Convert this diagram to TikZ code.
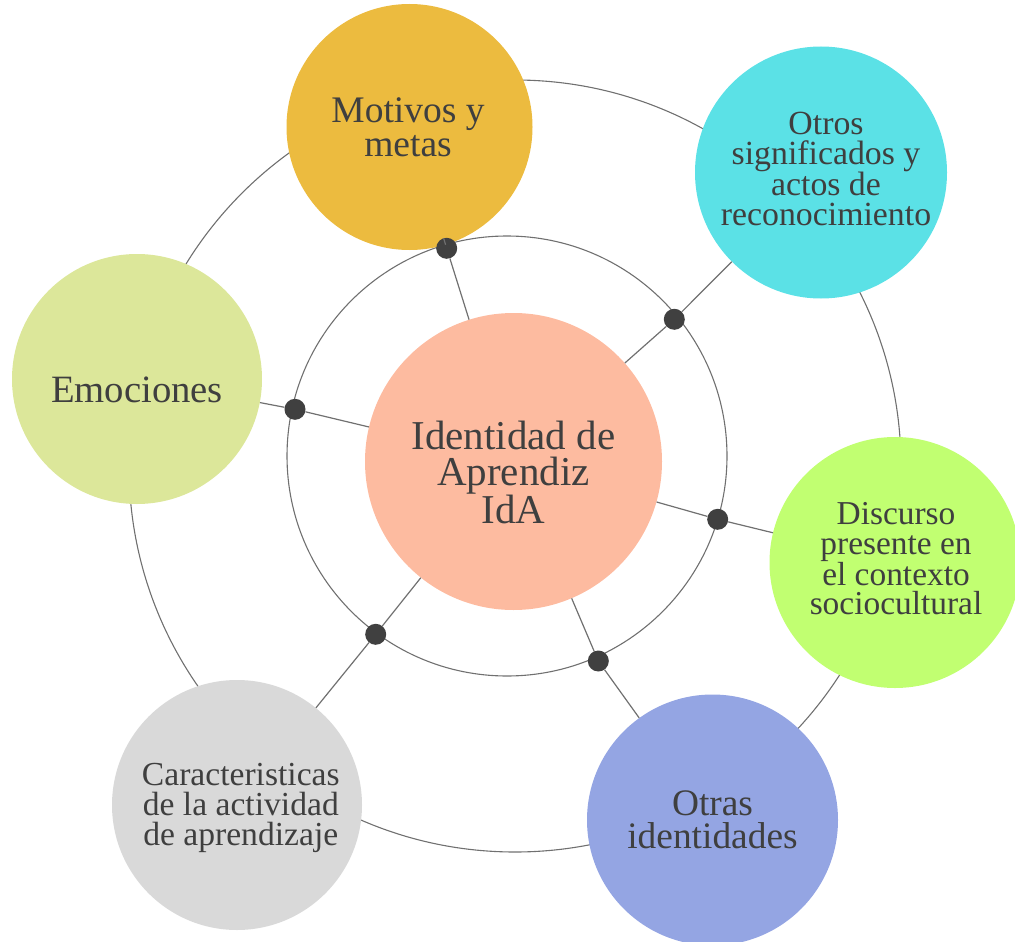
\documentclass[tikz,border=0pt]{standalone}
\usepackage{fontspec}
\setmainfont{Liberation Serif}
\definecolor{cMot}{HTML}{ECBB3F}
\definecolor{cOtr}{HTML}{5BE1E6}
\definecolor{cEmo}{HTML}{DCE79A}
\definecolor{cDis}{HTML}{C1FF71}
\definecolor{cOid}{HTML}{94A5E3}
\definecolor{cCar}{HTML}{D9D9D9}
\definecolor{cCen}{HTML}{FDBBA0}
\definecolor{cTxt}{HTML}{3F3F3F}
\definecolor{cLine}{HTML}{707070}
\definecolor{cDot}{HTML}{404040}
\tikzset{
  ring/.style={circle, draw=cLine, line width=1.1pt, inner sep=0pt},
  bubble/.style={circle, inner sep=0pt, draw=none},
  conn/.style={draw=cLine, line width=1.2pt},
  dotnode/.style={circle, fill=cDot, inner sep=0pt, minimum size=21pt},
  label/.style={text=cTxt, align=center, inner sep=0pt}
}
\newcommand{\fsz}[2]{\fontsize{#1pt}{#2pt}\selectfont}
\begin{document}
\begin{tikzpicture}[x=1pt,y=-1pt]
\useasboundingbox (0,0) rectangle (1015,942);
% rings
\node[ring, minimum size=772pt] (outerring) at (515,466) {};
\node[ring, minimum size=440pt] (innerring) at (507,456) {};
% bubbles
\node[bubble, fill=cCen, minimum size=297pt] (c) at (513.5,461.5) {};
\node[bubble, fill=cMot, minimum size=246pt] (mot) at (409.5,127) {};
\node[bubble, fill=cOtr, minimum size=252pt] (otr) at (821,172.5) {};
\node[bubble, fill=cEmo, minimum size=250pt] (emo) at (137,379) {};
\node[bubble, fill=cDis, minimum size=251pt] (dis) at (895,562.5) {};
\node[bubble, fill=cOid, minimum size=251pt] (oid) at (712.5,820) {};
\node[bubble, fill=cCar, minimum size=250pt] (car) at (237,805) {};
% dots
\node[dotnode] (d1) at (446.7,248.3) {};
\node[dotnode] (d2) at (674.3,319.3) {};
\node[dotnode] (d3) at (295,409.3) {};
\node[dotnode] (d4) at (717.7,519.3) {};
\node[dotnode] (d5) at (375.7,634.3) {};
\node[dotnode] (d6) at (598.3,661) {};
% connectors
\draw[conn] (c) -- (d1) -- (mot);
\draw[conn] (c) -- (d2) -- (otr);
\draw[conn] (c) -- (d3) -- (emo);
\draw[conn] (c) -- (d4) -- (dis);
\draw[conn] (c) -- (d5) -- (car);
\draw[conn] (c) -- (d6) -- (oid);
% labels
\node[label, font=\fsz{41}{36}] (tc) at (513.5,472.5) {Identidad de\\Aprendiz\\IdA};
\node[label, font=\fsz{37.5}{34}] (tmot) at (408,127) {Motivos y\\metas};
\node[label, font=\fsz{33.8}{29.7}] (totr) at (826,169) {Otros\\significados y\\actos de\\reconocimiento};
\node[label, font=\fsz{38.7}{36}] (temo) at (137,389.5) {Emociones};
\node[label, font=\fsz{33.4}{29.4}] (tdis) at (896,559) {Discurso\\presente en\\el contexto\\sociocultural};
\node[label, font=\fsz{37.4}{33}] (toid) at (712.5,819.7) {Otras\\identidades};
\node[label, font=\fsz{33.6}{30}] (tcar) at (240.8,807.8) {Caracteristicas\\de la actividad\\de aprendizaje};
\end{tikzpicture}
\end{document}
